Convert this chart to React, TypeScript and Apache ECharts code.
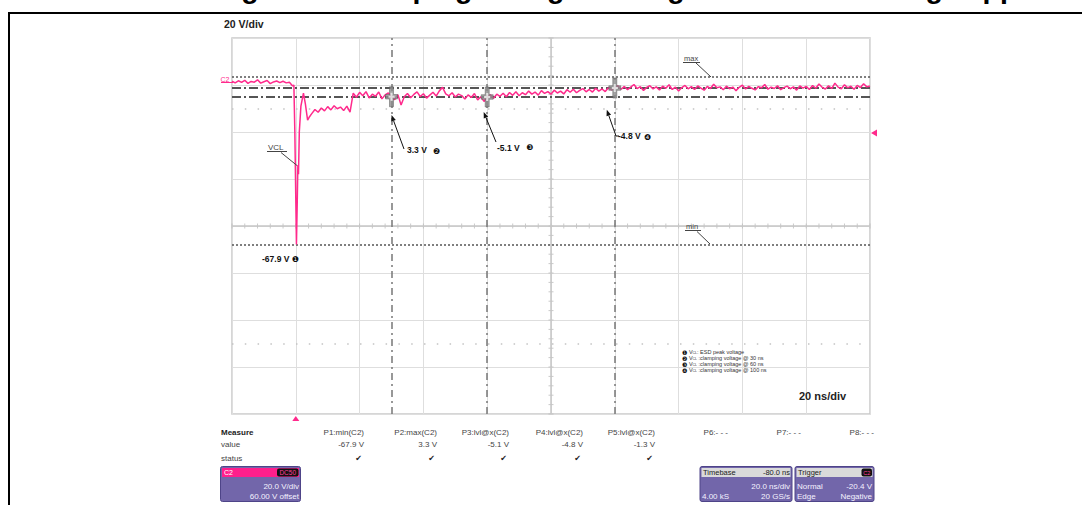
import { useEffect, useRef } from "react";
import * as echarts from "echarts";

// ---------- data ----------
const preStart = -20; // ns, 1 ns per sample
const preVolts = [1.6, 0.9, 1.8, 1.1, 2.0, 0.7, 1.5, 1.2, 2.2, 0.8, 1.4, 1.9, 0.6, 1.3, 1.7, 1.0, 1.6, 0.9, 1.2, -0.4];
const spikeTimes = [-0.6, -0.3, 0.2, 0.45, 0.65, 0.85, 1.1, 1.6, 2.4, 3.0, 3.7, 4.3];
const spikeVolts = [0.0, -20, -67.9, -50, -34, -38, -20, -9, -3.5, -8, -15, -13.5];
const postStart = 5; // ns, 1 ns per sample
const postVolts = [
  -12.2, -10.4, -11.6, -9.8, -11.0, -9.2, -10.6, -8.8, -10.1, -9.4, -10.9, -9.0, -11.5,
  -3.5, -5.2, -3.1, -4.6, -2.8, -5.5, -3.9, -4.8, -3.0, -5.9, -4.2, -3.4, -5.0, -6.2, -4.1, -8.5,
  -5.0, -3.6, -5.4, -4.0, -2.9, -4.9, -3.7, -5.6, -4.3, -3.1, -4.7, -2.5, -1.0, -3.8, -4.6, -3.3,
  -5.1, -3.9, -4.5, -6.0, -4.2, -5.3, -3.6, -6.4, -5.0, -7.0, -5.1,
  -4.2, -5.6, -3.9, -4.8, -3.5, -5.0, -3.2, -4.4, -2.9, -4.6, -3.3, -4.1, -2.6, -3.9, -3.0, -4.3,
  -2.4, -3.6, -2.8, -3.9, -2.2, -3.4, -2.6, -3.8, -2.0, -3.1, -1.8, -3.3, -2.3, -1.5, -2.9, -1.9,
  -3.0, -1.4, -2.6, -1.7, -2.8, -1.2, -2.1, -1.3,
  -0.4, -1.8, -0.6, -2.0, -0.9, 0.2, -1.5, -0.7, -2.3, -1.0, -0.3, -1.7, -0.8, -2.1, -0.5, -1.4,
  0.1, -1.9, -0.9, -2.6, -1.1, -0.2, -1.6, -0.7, -1.9, -0.4, -1.3, -2.2, -0.6, -1.5, 0.3, -1.2,
  -0.8, -2.0, -0.5, -1.6, -0.9, -2.4, -1.0, -0.1, -1.7, -0.6, -1.4, -2.1, -0.7, -1.2, 0.2, -1.8,
  -0.9, -1.5, -0.3, -2.0, -1.1, -0.5, -1.6, -0.8, -2.2, -0.4, -1.3, -0.6, -1.9, -0.2, -1.4, 0.4,
  -1.0, -1.7, -0.3, -1.5, 0.8, -0.9, -1.6, 0.1, -1.2, -0.5, -1.8, -0.2, -1.1, 0.5, -0.8, -0.4,
];

const cursorTimes = [30, 60, 100];
const cursorVolts = [-5.0, -5.1, -1.3];
const maxLevel = 3.3;
const minLevel = -67.9;
const levelLines = [-1.3, -5.1];
const triggerTime = 0;
const triggerLevel = -20.4;

const titleText = "Figure 9. Clamping voltage for negative ESD discharge applied";
const measureHeaders = ["P1:min(C2)", "P2:max(C2)", "P3:lvl@x(C2)", "P4:lvl@x(C2)", "P5:lvl@x(C2)", "P6:- - -", "P7:- - -", "P8:- - -"];
const measureValues = ["-67.9 V", "3.3 V", "-5.1 V", "-4.8 V", "-1.3 V"];
const annotationLabels = ["-67.9 V", "3.3 V", "-5.1 V", "-4.8 V"];
const legendLines = [
  ["❶", ": ESD peak voltage"],
  ["❷", " :clamping voltage @ 30 ns"],
  ["❸", " :clamping voltage @ 60 ns"],
  ["❹", " :clamping voltage @ 100 ns"],
];

// ---------- styles ----------
const FONT = "'Liberation Sans', Arial, Helvetica, sans-serif";
const SYM = "'DejaVu Sans', sans-serif";
const TRACE = "#ff2a8c";
const PURPLE = "#7266aa";
const PURPLE_EDGE = "#4e4488";

export default function App() {
  const ref = useRef<HTMLDivElement>(null);
  useEffect(() => {
    if (!ref.current) return;
    const chart = echarts.init(ref.current, undefined, { renderer: "svg" });

    const trace: number[][] = [];
    preVolts.forEach((v, i) => trace.push([preStart + i, v]));
    spikeTimes.forEach((t, i) => trace.push([t, spikeVolts[i]]));
    postVolts.forEach((v, i) => trace.push([postStart + i, v]));

    const xTicks: number[][] = [];
    for (let t = -20; t <= 180; t += 4) xTicks.push([t, -60]);
    const yTicks: number[][] = [];
    for (let v = -140; v <= 20; v += 4) yTicks.push([80, v]);

    const dashDot = { type: [9, 3, 2, 3], color: "#555", width: 2 };
    const dotted = { type: [2, 2], color: "#555", width: 1.5 };
    const cursorStyle = { type: [7, 4, 2, 4], color: "#777", width: 1.5 };
    const faintDots = { type: [1.5, 11.3], color: "#c4c4c4", width: 1.5 };
    const centerStyle = { type: "solid", color: "#c6c6c6", width: 1.5 };

    const axisCommon = {
      type: "value",
      axisLine: { show: false },
      axisTick: { show: false },
      axisLabel: { show: false },
      splitLine: { show: true, lineStyle: { color: "#dedede", width: 1 } },
    };

    chart.setOption({
      animation: false,
      backgroundColor: "#fff",
      grid: { left: 232, right: 212, top: 38, bottom: 91, show: true, borderColor: "#c9c9c9", borderWidth: 1.5 },
      xAxis: { ...axisCommon, min: -20, max: 180, interval: 20 },
      yAxis: { ...axisCommon, min: -140, max: 20, interval: 20 },
      series: [
        {
          type: "line",
          data: trace,
          showSymbol: false,
          silent: true,
          z: 5,
          lineStyle: { color: TRACE, width: 1.5 },
          markLine: {
            silent: true,
            symbol: "none",
            label: { show: false },
            animation: false,
            data: [
              { xAxis: 80, lineStyle: centerStyle },
              { yAxis: -60, lineStyle: centerStyle },
              { yAxis: -10, lineStyle: faintDots },
              { yAxis: -110, lineStyle: faintDots },
              { yAxis: maxLevel, lineStyle: dotted },
              { yAxis: minLevel, lineStyle: dotted },
              ...levelLines.map((v) => ({ yAxis: v, lineStyle: dashDot })),
              ...cursorTimes.map((t) => ({ xAxis: t, lineStyle: cursorStyle })),
            ],
          },
        },
        {
          type: "scatter",
          data: xTicks,
          symbol: "rect",
          symbolSize: [1, 5],
          itemStyle: { color: "#bdbdbd" },
          silent: true,
          z: 2,
        },
        {
          type: "scatter",
          data: yTicks,
          symbol: "rect",
          symbolSize: [5, 1],
          itemStyle: { color: "#bdbdbd" },
          silent: true,
          z: 2,
        },
        {
          type: "scatter",
          data: cursorTimes.map((t, i) => [t, cursorVolts[i]]),
          symbol: "path://M4,0H8V7H12V11H8V18H4V11H0V7H4Z",
          symbolSize: [12, 20],
          itemStyle: { color: "#8c8c8c", borderColor: "#555", borderWidth: 0.6 },
          silent: true,
          z: 6,
        },
        {
          type: "scatter",
          data: cursorTimes.map((t, i) => [t, cursorVolts[i]]),
          symbol: "path://M2,0H4V3H6V5H4V8H2V5H0V3H2Z",
          symbolSize: [6, 8],
          itemStyle: { color: "#f2f2f2" },
          silent: true,
          z: 7,
        },
      ],
    });

    const px = (t: number, v: number) => chart.convertToPixel({ gridIndex: 0 }, [t, v]) as number[];

    const txt = (x: number, y: number, text: string, o: any = {}) => ({
      type: "text",
      x,
      y,
      silent: true,
      z: o.z ?? 20,
      style: {
        text,
        fill: o.fill ?? "#333",
        fontSize: o.size ?? 8,
        fontWeight: o.bold ? "bold" : "normal",
        fontFamily: o.family ?? FONT,
        align: o.align ?? "left",
        verticalAlign: o.va ?? "middle",
      },
    });
    const ln = (x1: number, y1: number, x2: number, y2: number, stroke = "#333", w = 1) => ({
      type: "line",
      silent: true,
      z: 20,
      shape: { x1, y1, x2, y2 },
      style: { stroke, lineWidth: w },
    });
    const arrow = (tip: number[], tail: number[]) => {
      const dx = tip[0] - tail[0];
      const dy = tip[1] - tail[1];
      const len = Math.hypot(dx, dy);
      const ux = dx / len;
      const uy = dy / len;
      const hl = 6;
      const hw = 2.4;
      const bx = tip[0] - ux * hl;
      const by = tip[1] - uy * hl;
      return [
        ln(tail[0], tail[1], bx, by, "#111", 1),
        {
          type: "polygon",
          silent: true,
          z: 20,
          shape: { points: [tip, [bx - uy * hw, by + ux * hw], [bx + uy * hw, by - ux * hw]] },
          style: { fill: "#111" },
        },
      ];
    };
    const rect = (x: number, y: number, w: number, h: number, fill: string, stroke?: string, r = 0) => ({
      type: "rect",
      silent: true,
      z: 15,
      shape: { x, y, width: w, height: h, r },
      style: { fill, stroke: stroke ?? null, lineWidth: stroke ? 1 : 0 },
    });

    const tip2 = px(cursorTimes[0], -12.8);
    const tip3 = px(cursorTimes[1], -11.5);
    const tip4 = px(cursorTimes[2], -11);
    const trigBottom = px(triggerTime, -140);
    const trigRight = px(180, triggerLevel);
    const gnd = px(-20, 0);

    const g: any[] = [];
    // title (clipped at the top, as in the source) and frame
    g.push(txt(216, -12, titleText, { size: 28.5, bold: true, fill: "#000" }));
    g.push(ln(8, 13, 1082, 13, "#000", 2));
    g.push(ln(9, 12, 9, 505, "#000", 2));

    g.push(txt(224, 24, "20 V/div", { size: 10.5, bold: true, fill: "#222" }));
    g.push(txt(799, 396, "20 ns/div", { size: 11, bold: true, fill: "#222" }));

    // channel marker
    g.push(txt(229.5, gnd[1] - 6, "C2", { size: 7, fill: TRACE, align: "right" }));
    g.push(ln(221, gnd[1] - 2.5, 233, gnd[1] - 2.5, TRACE, 1));

    // trigger markers
    g.push({
      type: "polygon", silent: true, z: 20,
      shape: { points: [[trigBottom[0], trigBottom[1] + 2], [trigBottom[0] - 3.5, trigBottom[1] + 7], [trigBottom[0] + 3.5, trigBottom[1] + 7]] },
      style: { fill: TRACE },
    });
    g.push({
      type: "polygon", silent: true, z: 20,
      shape: { points: [[trigRight[0] + 1, trigRight[1]], [trigRight[0] + 7, trigRight[1] - 3.5], [trigRight[0] + 7, trigRight[1] + 3.5]] },
      style: { fill: TRACE },
    });

    // max / min / VCL labels
    g.push(txt(684, 58.5, "max", { size: 7.5, fill: "#444" }));
    g.push(ln(683, 62.5, 700, 62.5, "#444", 1));
    g.push(ln(696, 63, 711, 77, "#444", 1));
    g.push(txt(686, 226, "min", { size: 7.5, fill: "#444" }));
    g.push(ln(685, 230.5, 701, 230.5, "#444", 1));
    g.push(ln(697, 231.5, 710, 244, "#444", 1));
    g.push(txt(268, 147, "VCL", { size: 8, fill: "#444" }));
    g.push(ln(267, 151.5, 287, 151.5, "#444", 1));
    g.push(ln(281, 152.5, 297, 165.5, "#444", 1));

    // annotations with arrows
    g.push(...arrow([tip2[0], tip2[1]], [404, 149]));
    g.push(txt(407, 150, annotationLabels[1], { size: 8.5, bold: true, fill: "#111" }));
    g.push(txt(433, 151, "❷", { size: 8, family: SYM, fill: "#111" }));
    g.push(...arrow([tip3[0] - 3.5, tip3[1]], [496, 142]));
    g.push(txt(497, 148, annotationLabels[2], { size: 8.5, bold: true, fill: "#111" }));
    g.push(txt(526, 147.5, "❸", { size: 8, family: SYM, fill: "#111" }));
    g.push(...arrow([tip4[0] - 8, tip4[1] - 1], [616, 136]));
    g.push(ln(616, 136, 619, 136, "#111", 1));
    g.push(txt(618, 136, annotationLabels[3], { size: 8.5, bold: true, fill: "#111" }));
    g.push(txt(644, 137, "❹", { size: 8, family: SYM, fill: "#111" }));
    g.push(txt(262, 259, annotationLabels[0], { size: 8.5, bold: true, fill: "#111" }));
    g.push(txt(292, 259.5, "❶", { size: 8, family: SYM, fill: "#111" }));

    // legend
    legendLines.forEach((l, i) => {
      g.push({
        type: "text", x: 682, y: 352 + i * 6, silent: true, z: 20,
        style: {
          text: `{c|${l[0]}} V{s|CL}${l[1]}`,
          fill: "#333",
          fontSize: 5.5,
          fontFamily: FONT,
          verticalAlign: "middle",
          rich: {
            c: { fontFamily: SYM, fontSize: 6, fill: "#111" },
            s: { fontSize: 3.5, fill: "#333", verticalAlign: "bottom" },
          },
        },
      });
    });

    // measure table
    g.push(txt(221, 432, "Measure", { size: 8, bold: true, fill: "#222" }));
    g.push(txt(221, 444, "value", { size: 8, fill: "#444" }));
    g.push(txt(221, 458, "status", { size: 8, fill: "#444" }));
    const colRight = [364, 437, 509, 583, 655, 728, 801, 874];
    measureHeaders.forEach((h, i) => g.push(txt(colRight[i], 432, h, { size: 8, fill: "#444", align: "right" })));
    measureValues.forEach((v, i) => {
      g.push(txt(colRight[i], 444, v, { size: 8, fill: "#444", align: "right" }));
      g.push(txt(colRight[i] - 2, 458, "✔", { size: 8, family: SYM, fill: "#222", align: "right" }));
    });

    // C2 box
    g.push(rect(220.5, 466.5, 80, 35, PURPLE, PURPLE_EDGE, 2));
    g.push(rect(222, 468, 77, 9, "#ff1f8c"));
    g.push(txt(224, 472.5, "C2", { size: 7, fill: "#fff" }));
    g.push(rect(277, 468.5, 21.5, 8, "#111", undefined, 2));
    g.push(txt(287.7, 472.5, "DC50", { size: 6.5, fill: "#ff3d9a", align: "center" }));
    g.push(txt(299, 486, "20.0 V/div", { size: 8, fill: "#f4f2ff", align: "right" }));
    g.push(txt(299, 496.5, "60.00 V offset", { size: 8, fill: "#f4f2ff", align: "right" }));

    // Timebase box
    g.push(rect(700, 466.5, 92, 35, PURPLE, PURPLE_EDGE, 2));
    g.push(rect(701.5, 468, 89, 9, "#dadada"));
    g.push(txt(703, 472.5, "Timebase", { size: 7.5, fill: "#222" }));
    g.push(txt(790, 472.5, "-80.0 ns", { size: 7.5, fill: "#222", align: "right" }));
    g.push(txt(790, 486, "20.0 ns/div", { size: 8, fill: "#f4f2ff", align: "right" }));
    g.push(txt(702, 496.5, "4.00 kS", { size: 8, fill: "#f4f2ff" }));
    g.push(txt(790, 496.5, "20 GS/s", { size: 8, fill: "#f4f2ff", align: "right" }));

    // Trigger box
    g.push(rect(795, 466.5, 79, 35, PURPLE, PURPLE_EDGE, 2));
    g.push(rect(796.5, 468, 76, 9, "#dadada"));
    g.push(txt(798, 472.5, "Trigger", { size: 7.5, fill: "#222" }));
    g.push(rect(861.5, 468.5, 10.5, 8, "#111", undefined, 2));
    g.push(txt(866.7, 472.5, "C2", { size: 5.5, fill: "#ff3d9a", align: "center" }));
    g.push(txt(797, 486, "Normal", { size: 8, fill: "#f4f2ff" }));
    g.push(txt(872, 486, "-20.4 V", { size: 8, fill: "#f4f2ff", align: "right" }));
    g.push(txt(797, 496.5, "Edge", { size: 8, fill: "#f4f2ff" }));
    g.push(txt(872, 496.5, "Negative", { size: 8, fill: "#f4f2ff", align: "right" }));

    chart.setOption({ graphic: g });

    return () => chart.dispose();
  }, []);

  return (
    <div
      ref={ref}
      style={{ position: "fixed", left: 0, top: 0, width: 1082, height: 505, background: "#fff" }}
    />
  );
}
